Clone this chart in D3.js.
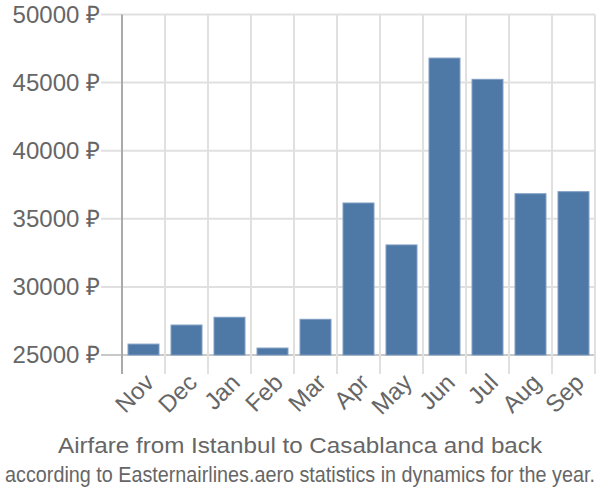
<!DOCTYPE html>
<html><head><meta charset="utf-8">
<script src="https://cdn.jsdelivr.net/npm/d3@7"></script>
<style>body{margin:0;background:#fff}svg{display:block}text{font-family:"Liberation Sans",Arial,sans-serif}</style>
</head><body>
<svg id="c" width="600" height="500"></svg>
<script>
const months = ["Nov","Dec","Jan","Feb","Mar","Apr","May","Jun","Jul","Aug","Sep"];
const prices = [25800,27200,27770,25510,27620,36160,33080,46800,45240,36840,36990];
const yTicks = [25000,30000,35000,40000,45000,50000];
const title = "Airfare from Istanbul to Casablanca and back";
const subtitle = "according to Easternairlines.aero statistics in dynamics for the year.";

(function(){
const svg = d3.select("#c");
const mL = 122, mR = 595, mT = 14.5, mB = 355;
const x = d3.scaleBand().domain(months).range([mL, mR]).paddingInner(0.28).paddingOuter(0.14);
const y = d3.scaleLinear().domain([25000, 50000]).range([mB, mT]);
const step = x.step();

svg.append("g").selectAll("line").data(yTicks).join("line")
  .attr("x1", 101).attr("x2", mR).attr("y1", d=>y(d)).attr("y2", d=>y(d))
  .attr("stroke", d=> d===25000 ? "#c8c8c8" : "#e0e0e0").attr("stroke-width", 2);
const vx = months.map((m,i)=>mL + step*(i+1));
svg.append("g").selectAll("line").data(vx).join("line")
  .attr("x1", d=>d).attr("x2", d=>d).attr("y1", mT).attr("y2", 374)
  .attr("stroke", "#e0e0e0").attr("stroke-width", 2);
svg.append("line").attr("x1", mL).attr("x2", mL).attr("y1", mT).attr("y2", 374)
  .attr("stroke", "#aaa").attr("stroke-width", 2);

svg.append("g").selectAll("rect").data(months).join("rect")
  .attr("x", d=>x(d)).attr("width", x.bandwidth())
  .attr("y", (d,i)=>y(prices[i])).attr("height", (d,i)=>mB - y(prices[i]))
  .attr("fill", "#4e79a7").attr("stroke", "#7d9bc1").attr("stroke-width", 1);

svg.append("g").selectAll("text").data(yTicks).join("text")
  .attr("x", 100).attr("y", d=>y(d)).attr("dy", "0.35em").attr("text-anchor", "end")
  .attr("fill", "#666").attr("font-size", 24).text(d=>d + " ₽");

svg.append("g").selectAll("text").data(months).join("text")
  .attr("transform", d=>`translate(${x(d)+x.bandwidth()/2+12},${384}) rotate(-45)`)
  .attr("text-anchor", "end").attr("fill", "#666").attr("font-size", 24).text(d=>d);

svg.append("text").attr("x", 300).attr("y", 452.7).attr("text-anchor", "middle")
  .attr("fill", "#666").attr("font-size", 22).attr("textLength", 484).attr("lengthAdjust", "spacingAndGlyphs").text(title);

const fs = 18, target = 590, targetSize = 22;
const sub = svg.append("text").attr("text-anchor", "middle")
  .attr("fill", "#666").attr("font-size", fs).text(subtitle);
const w = sub.node().getComputedTextLength();
const sx = Math.min(target / w, targetSize / fs);
sub.attr("transform", `translate(300,482) scale(${sx},${targetSize / fs})`);
})();
</script>
</body></html>
